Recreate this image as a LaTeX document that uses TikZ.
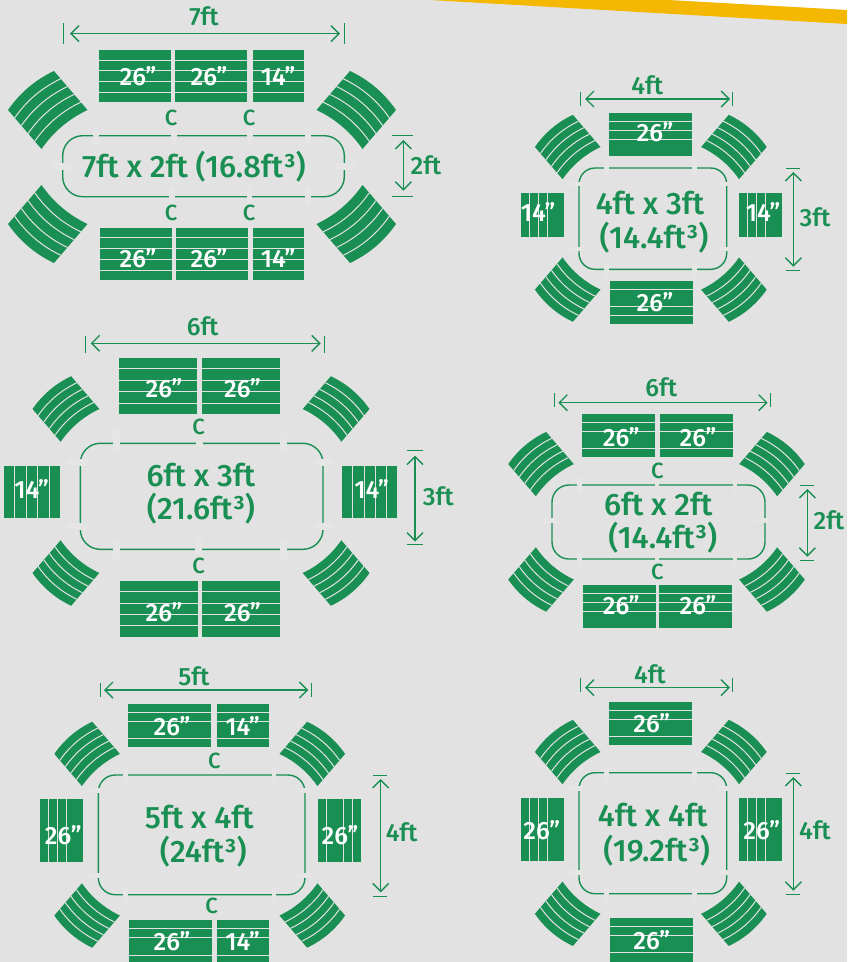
\documentclass[tikz,border=0pt]{standalone}
\usepackage{fontspec}
\setmainfont{Fira Sans Medium}
\usetikzlibrary{arrows.meta}
\definecolor{seatgreen}{HTML}{198F53}
\definecolor{bgc}{HTML}{E2E2E2}
\definecolor{gapc}{HTML}{E5E5E5}
\definecolor{bandc}{HTML}{F5B800}
\newcounter{lblc}
\newcommand\txt[5]{\stepcounter{lblc}\node[textlabel,text=#4] (t\arabic{lblc}) at (#1,{#2+.345*#3}) {\fontsize{#3}{#3}\selectfont #5};}
\newcommand\hbench[5]{\fill[seatgreen] (#1,#2) rectangle (#3,#4);
  \foreach \yy in {#5} \draw[slat] (#1,\yy) -- (#3,\yy);}
\newcommand\vbench[5]{\fill[seatgreen] (#1,#2) rectangle (#3,#4);
  \foreach \xx in {#5} \draw[slat] (\xx,#2) -- (\xx,#4);}
\newcommand\seatarc[5]{\begin{scope}[shift={(#1,#2)},xscale=#3*#5,yscale=#4*#5]
  \fill[seatgreen] (-39.5,0) .. controls (-27.6,-17.1) and (-12.3,-30.1) .. (6.5,-39) -- (40,0)
     .. controls (21.2,8.9) and (5.9,21.9) .. (-6,39) -- cycle;
  \foreach \tt in {.2,.4,.6,.8} {
    \draw[slat] ({-39.5+\tt*33.5},{\tt*39}) .. controls ({-27.6+\tt*33.5},{-17.1+\tt*39}) and ({-12.3+\tt*33.5},{-30.1+\tt*39}) .. ({6.5+\tt*33.5},{-39+\tt*39});
  }
  \end{scope}}
\newcommand\seatarcs[5]{%
  \seatarc{#1-#3}{#2-#4}{1}{1}{#5}\seatarc{#1+#3}{#2-#4}{-1}{1}{#5}%
  \seatarc{#1-#3}{#2+#4}{1}{-1}{#5}\seatarc{#1+#3}{#2+#4}{-1}{-1}{#5}}
\newcommand\outline[5]{\draw[tableline,rounded corners=#5pt] (#1,#2) rectangle (#3,#4);}
\newcommand\gapmark[4]{\fill[gapc] (#1,#2) rectangle (#3,#4);}
% y, x1, x2, tick x left, tick x right, tick y1, tick y2
\newcommand\widthdim[7]{\coordinate (wa) at (#2,#1); \coordinate (wb) at (#3,#1);
  \draw[dimarrow] (wa) -- (wb);
  \coordinate (wc) at (#4,#6); \coordinate (wd) at (#4,#7); \draw[dimtick] (wc) -- (wd);
  \coordinate (we) at (#5,#6); \coordinate (wf) at (#5,#7); \draw[dimtick] (we) -- (wf);}
% x, y1, y2, tick y top, tick y bottom, tick x1, tick x2
\newcommand\heightdim[7]{\coordinate (wa) at (#1,#2); \coordinate (wb) at (#1,#3);
  \draw[dimarrow] (wa) -- (wb);
  \coordinate (wc) at (#6,#4); \coordinate (wd) at (#7,#4); \draw[dimtick] (wc) -- (wd);
  \coordinate (we) at (#6,#5); \coordinate (wf) at (#7,#5); \draw[dimtick] (we) -- (wf);}
\tikzset{
  textlabel/.style={anchor=base,inner sep=0pt,outer sep=0pt},
  slat/.style={draw=bgc,line width=1pt},
  tableline/.style={draw=seatgreen,line width=1.4pt},
  dimarrow/.style={draw=seatgreen,line width=1.4pt,{Straight Barb[length=8pt,width=16pt,line width=1.4pt]}-{Straight Barb[length=8pt,width=16pt,line width=1.4pt]}},
  dimtick/.style={draw=seatgreen,line width=.9pt},
}
\begin{document}
\begin{tikzpicture}[x=1pt,y=-1pt]
\useasboundingbox (0,0) rectangle (847,962);
\fill[bgc] (0,0) rectangle (847,962);
\fill[white] (668,0) -- (847,0) -- (847,10) -- cycle;
\fill[bandc] (430,0) -- (668,0) -- (847,10) -- (847,24) -- cycle;

% ---------- 7ft x 2ft
\seatarcs{202}{167}{154.5}{57}{1}
\hbench{99}{50}{171}{102}{60,70.7,81.7,92}
\hbench{175}{50}{247}{102}{60,70.7,81.7,92}
\hbench{253}{50}{304}{102}{60,70.7,81.7,92}
\hbench{100}{228}{172}{280}{237.3,248.3,259.3,270}
\hbench{176}{228}{248}{280}{237.3,248.3,259.3,270}
\hbench{253}{228}{304}{280}{237.3,248.3,259.3,270}
\outline{62.7}{135.7}{344.3}{196.7}{20}
\gapmark{93}{127}{99}{145}\gapmark{171}{127}{177}{145}\gapmark{247}{127}{253}{145}\gapmark{305}{127}{311}{145}
\gapmark{169}{186}{175}{205}\gapmark{247}{186}{252}{205}\gapmark{305}{186}{311}{205}
\gapmark{52}{163}{72}{170}\gapmark{336}{163}{356}{170}
\widthdim{33.7}{70}{340}{63.3}{344.3}{23.3}{44.3}
\heightdim{403.3}{140}{190.7}{135}{196.7}{391.7}{413.3}
\txt{204}{17.3}{25}{seatgreen}{7ft}
\txt{426}{166}{25}{seatgreen}{2ft}
\txt{194}{166.7}{31}{seatgreen}{7ft x 2ft (16.8ft³)}
\txt{138}{76.7}{25}{white}{26”}\txt{209}{76.7}{25}{white}{26”}\txt{278}{76.7}{25}{white}{14”}
\txt{138}{259}{25}{white}{26”}\txt{209}{259}{25}{white}{26”}\txt{278}{259}{25}{white}{14”}
\txt{171}{118.3}{22}{seatgreen}{C}\txt{249}{118.3}{22}{seatgreen}{C}
\txt{171}{212.7}{22}{seatgreen}{C}\txt{249}{212.7}{22}{seatgreen}{C}

% ---------- 4ft x 3ft
\seatarcs{650.8}{218.3}{83.3}{71.3}{.825}
\hbench{609}{113}{692}{156}{121.7,130.3,139.3}
\hbench{610}{281}{693}{323.7}{289.3,306,315}
\vbench{521}{193}{564}{237}{529.7,538.7,547.7}
\vbench{739}{193}{782}{237}{747.3,756.7,765.7}
\outline{579}{168}{726.7}{269.3}{16}
\gapmark{604}{159}{609}{175}\gapmark{692}{159}{697}{175}
\gapmark{604}{263}{609}{278}\gapmark{692}{263}{697}{278}
\gapmark{570}{181.7}{583}{186}\gapmark{716.7}{181.7}{730}{186}
\gapmark{570}{246.7}{583}{250.7}\gapmark{716.7}{246.7}{730}{250.7}
\widthdim{99}{585}{730}{580.7}{732.3}{92.3}{106}
\heightdim{793.3}{172}{266.7}{168.3}{270.7}{786}{800}
\txt{647.3}{85.7}{25}{seatgreen}{4ft}
\txt{815}{218.3}{25}{seatgreen}{3ft}
\txt{650}{204}{31}{seatgreen}{4ft x 3ft}
\txt{654}{238}{31}{seatgreen}{(14.4ft³)}
\txt{655}{132.7}{25}{white}{26”}\txt{655}{302.7}{25}{white}{26”}
\txt{538}{213.3}{25}{white}{14”}\txt{763}{213.3}{25}{white}{14”}

% ---------- 6ft x 3ft
\seatarcs{201}{491}{135.3}{82}{.84}
\hbench{119}{358}{197}{414}{368.7,380.7,391.7,403.7}
\hbench{202}{358}{280}{414}{368.7,380.7,391.7,403.7}
\hbench{120}{581}{198}{637}{591.7,603.3,614.3,625.7}
\hbench{202}{581}{280}{637}{591.7,603.3,614.3,625.7}
\vbench{4}{466}{60}{518}{14,26,37.7,49}
\vbench{342}{466}{397}{518}{352.7,364.3,375.7,386.7}
\outline{80.3}{443.3}{323}{549.3}{20}
\gapmark{113}{427}{120}{453}\gapmark{196}{441}{202.7}{447}\gapmark{280}{433}{287}{453}
\gapmark{113}{540}{120}{560}\gapmark{195}{538}{201.7}{555}\gapmark{280}{540}{287}{560}
\gapmark{66.7}{459.3}{86.7}{466}\gapmark{315}{459.3}{333}{466}
\gapmark{66.7}{523}{86.7}{530}\gapmark{315}{523}{333}{530}
\widthdim{343.3}{90.7}{320.7}{85.3}{324}{336}{352.7}
\heightdim{415}{455.7}{541.7}{450.7}{544.3}{406.7}{422.7}
\txt{202.7}{326.7}{25}{seatgreen}{6ft}
\txt{438.3}{496.7}{25}{seatgreen}{3ft}
\txt{201}{475.7}{31}{seatgreen}{6ft x 3ft}
\txt{201}{509}{31}{seatgreen}{(21.6ft³)}
\txt{164}{389.3}{25}{white}{26”}\txt{242.5}{389.3}{25}{white}{26”}
\txt{164}{613.3}{25}{white}{26”}\txt{242.5}{613.3}{25}{white}{26”}
\txt{31.7}{490}{25}{white}{14”}\txt{371.7}{490}{25}{white}{14”}
\txt{198.7}{427.3}{22}{seatgreen}{C}\txt{198.7}{565.7}{22}{seatgreen}{C}

% ---------- 6ft x 2ft
\seatarcs{656.5}{521.8}{115.7}{57.7}{.825}
\hbench{582}{414}{655}{457}{422.7,431.7,448.3}
\hbench{660}{414}{733}{457}{422.7,431.7,448.3}
\hbench{583}{585}{656}{628}{593.3,602.3,611.7}
\hbench{659}{585}{732}{628}{593.3,602.3,611.7}
\outline{552}{485}{765}{559}{17}
\gapmark{577.3}{476.7}{581.7}{493}\gapmark{655}{480}{659}{490}\gapmark{733.3}{476.7}{737.3}{493}
\gapmark{577.3}{551.7}{581.7}{566.7}\gapmark{655}{553}{659}{563}\gapmark{733.3}{551.7}{737.3}{566.7}
\gapmark{541.7}{518.3}{558.3}{522.7}\gapmark{755}{518.3}{771.7}{522.7}
\widthdim{402.7}{558.3}{767.7}{554}{770.3}{393.3}{407}
\heightdim{807.3}{489}{556.7}{485.3}{560.7}{800}{814}
\txt{661.3}{387.7}{25}{seatgreen}{6ft}
\txt{829}{521}{25}{seatgreen}{2ft}
\txt{658.3}{504.3}{31}{seatgreen}{6ft x 2ft}
\txt{662.7}{537.3}{31}{seatgreen}{(14.4ft³)}
\txt{621.3}{437.7}{25}{white}{26”}\txt{698}{437.7}{25}{white}{26”}
\txt{621.3}{605.7}{25}{white}{26”}\txt{698}{605.7}{25}{white}{26”}
\txt{657.3}{470.7}{22}{seatgreen}{C}\txt{657.3}{571.7}{22}{seatgreen}{C}

% ---------- 5ft x 4ft
\seatarcs{199.7}{834.7}{112.8}{80.8}{.825}
\hbench{128}{704}{211}{747}{712.3,721.3,738.3}
\hbench{217}{704}{269}{747}{712.3,721.3,738.3}
\hbench{129}{920}{212}{962}{928.3,937.3,955}
\hbench{217}{920}{269}{962}{928.3,937.3,955}
\vbench{40}{799}{83}{862}{48.3,57.7,66.7}
\vbench{318}{799}{361}{862}{326.7,343.3,352.3}
\outline{98.3}{775}{305}{894.7}{17}
\gapmark{123.3}{766.7}{127.7}{783}\gapmark{271.7}{766.7}{276}{783}
\gapmark{123.3}{888}{127.7}{903.3}\gapmark{271.7}{888}{276}{903.3}
\gapmark{88.3}{788.3}{100}{792.7}\gapmark{295}{788.3}{310}{792.7}
\gapmark{88.3}{873.3}{100}{877.7}\gapmark{295}{873.3}{310}{877.7}
\widthdim{690}{104}{308.3}{100}{311.7}{683.3}{697}
\heightdim{380.7}{779}{892.3}{775}{896.7}{373.3}{387.3}
\txt{194}{676.7}{25}{seatgreen}{5ft}
\txt{401.7}{832.7}{25}{seatgreen}{4ft}
\txt{199.3}{817.7}{31}{seatgreen}{5ft x 4ft}
\txt{203.3}{851.7}{31}{seatgreen}{(24ft³)}
\txt{172}{726.7}{25}{white}{26”}\txt{242.7}{726.7}{25}{white}{14”}
\txt{172}{942.3}{25}{white}{26”}\txt{242.7}{942.3}{25}{white}{14”}
\txt{63.3}{836}{25}{white}{26”}\txt{340}{836}{25}{white}{26”}
\txt{214.3}{760.7}{22}{seatgreen}{C}\txt{211.7}{906}{22}{seatgreen}{C}

% ---------- 4ft x 4ft
\seatarcs{650.8}{832.9}{83.3}{80.9}{.825}
\hbench{609}{702}{692}{745}{710.7,719.3,736.7}
\hbench{610}{918}{693}{962}{926.3,935,952.7}
\vbench{521}{798}{564}{861}{529.7,538.7,547.7}
\vbench{739}{798}{782}{861}{747.3,756.7,765.7}
\outline{579}{772.7}{726.7}{893.7}{16}
\gapmark{604}{765}{609}{781}\gapmark{692}{765}{697}{781}
\gapmark{604}{886.7}{609}{901.7}\gapmark{692}{886.7}{697}{901.7}
\gapmark{570}{785.7}{583}{790.7}\gapmark{716.7}{785.7}{730}{790.7}
\gapmark{570}{870}{583}{875}\gapmark{716.7}{870}{730}{875}
\widthdim{687.7}{585}{730}{580.7}{732.3}{678.3}{692.3}
\heightdim{793.3}{777}{890.7}{773}{894.3}{786}{800}
\txt{650}{675}{25}{seatgreen}{4ft}
\txt{815}{830.7}{25}{seatgreen}{4ft}
\txt{652.7}{815.7}{31}{seatgreen}{4ft x 4ft}
\txt{656.7}{850.7}{31}{seatgreen}{(19.2ft³)}
\txt{651.7}{724}{25}{white}{26”}\txt{651.7}{940.7}{25}{white}{26”}
\txt{541.7}{830.7}{25}{white}{26”}\txt{761.7}{830.7}{25}{white}{26”}
\end{tikzpicture}
\end{document}
